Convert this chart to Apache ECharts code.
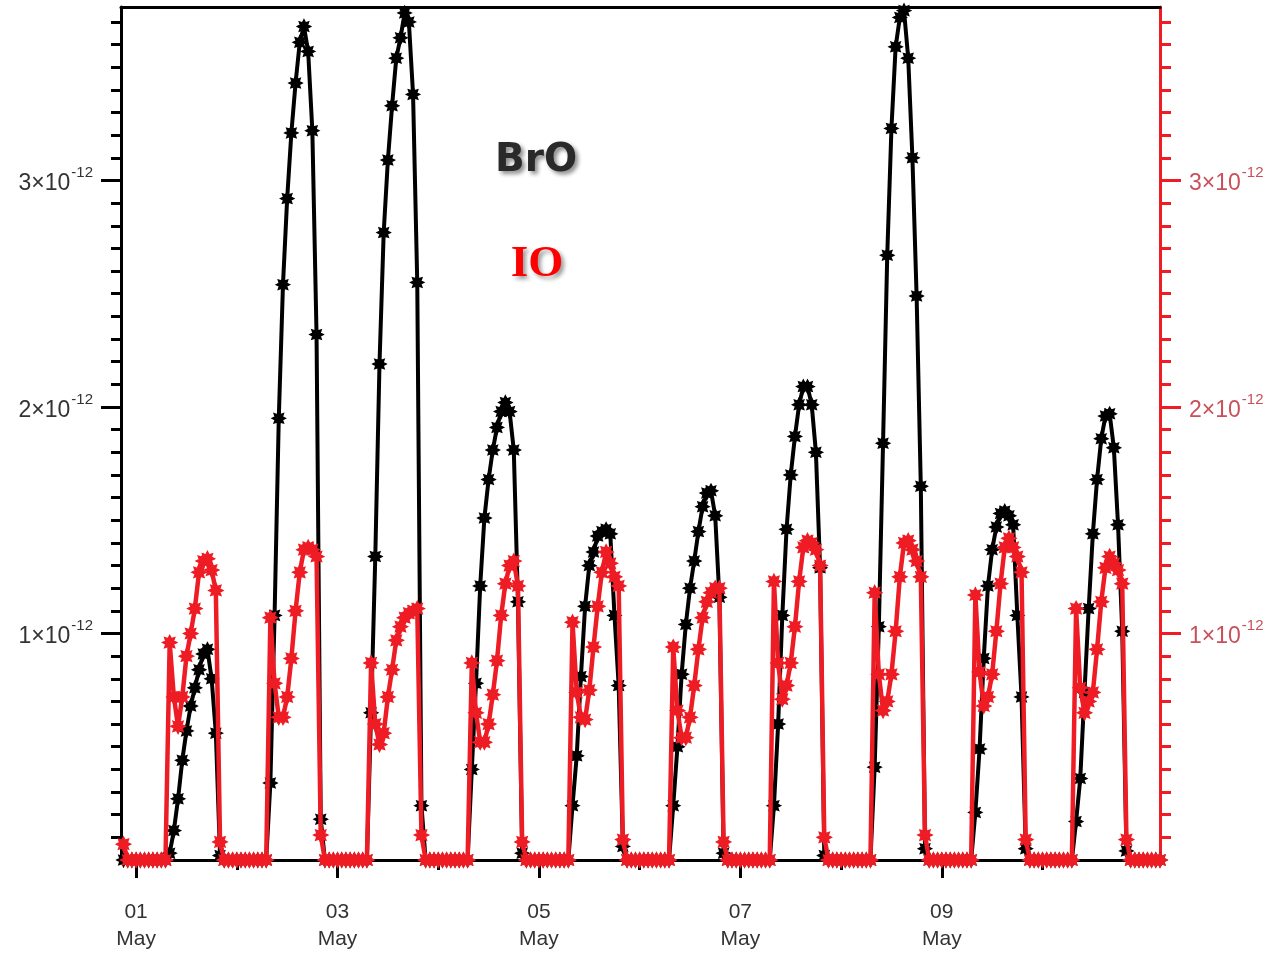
<!DOCTYPE html>
<html><head><meta charset="utf-8">
<script src="https://cdn.jsdelivr.net/npm/echarts@6/dist/echarts.min.js"></script>
<style>html,body{margin:0;padding:0;background:#fff}#c{width:1272px;height:953px}</style>
</head><body><div id="c"></div><script>
// hourly values in units of 1e-12, first point = 30 Apr 21:00 (hour -3 from 01 May 00:00)
const startHour = -3;
const broE12 = [
  0, 0, 0,
  0,0,0,0,0,0,0,0, 0.03,0.13,0.27,0.44,0.57,0.68,0.76,0.84,0.91,0.93,0.80,0.56,0.02, 0,0,0,
  0,0,0,0,0,0,0,0, 0.34,1.08,1.95,2.54,2.92,3.21,3.43,3.61,3.68,3.57,3.22,2.32,0.18, 0,0,0,
  0,0,0,0,0,0,0,0, 0.65,1.34,2.19,2.77,3.09,3.33,3.54,3.63,3.74,3.70,3.38,2.55,0.24, 0,0,0,
  0,0,0,0,0,0,0,0, 0.40,0.78,1.21,1.51,1.68,1.81,1.91,1.98,2.02,1.98,1.81,1.14,0.03, 0,0,0,
  0,0,0,0,0,0,0,0, 0.24,0.46,0.81,1.12,1.30,1.36,1.43,1.45,1.46,1.44,1.08,0.77,0.06, 0,0,0,
  0,0,0,0,0,0,0,0, 0.24,0.50,0.82,1.04,1.20,1.32,1.45,1.56,1.62,1.63,1.52,1.16,0.03, 0,0,0,
  0,0,0,0,0,0,0,0, 0.24,0.60,1.08,1.46,1.70,1.87,2.01,2.09,2.09,2.01,1.80,1.29,0.02, 0,0,0,
  0,0,0,0,0,0,0,0, 0.41,1.03,1.84,2.67,3.23,3.59,3.72,3.75,3.54,3.10,2.49,1.65,0.05, 0,0,0,
  0,0,0,0,0,0,0,0, 0.21,0.49,0.89,1.21,1.37,1.47,1.53,1.54,1.52,1.48,1.08,0.72,0.05, 0,0,0,
  0,0,0,0,0,0,0,0, 0.17,0.36,0.74,1.11,1.44,1.68,1.86,1.96,1.97,1.82,1.48,1.01,0.04, 0,0,0,
  0,0,0,0,0
];
const ioE12 = [
  0.07, 0, 0,
  0,0,0,0,0,0,0,0, 0.96,0.72,0.59,0.72,0.90,1.00,1.11,1.27,1.32,1.33,1.28,1.19,0.08, 0,0,0,
  0,0,0,0,0,0,0,0, 1.07,0.78,0.63,0.63,0.72,0.89,1.10,1.27,1.37,1.38,1.37,1.34,0.11, 0,0,0,
  0,0,0,0,0,0,0,0, 0.87,0.60,0.51,0.56,0.72,0.84,0.97,1.03,1.07,1.09,1.10,1.11,0.11, 0,0,0,
  0,0,0,0,0,0,0,0, 0.87,0.65,0.52,0.52,0.60,0.73,0.88,1.08,1.22,1.30,1.32,1.21,0.08, 0,0,0,
  0,0,0,0,0,0,0,0, 1.05,0.74,0.63,0.62,0.75,0.94,1.12,1.27,1.36,1.31,1.25,1.21,0.09, 0,0,0,
  0,0,0,0,0,0,0,0, 0.94,0.66,0.54,0.54,0.63,0.77,0.93,1.07,1.14,1.18,1.20,1.20,0.08, 0,0,0,
  0,0,0,0,0,0,0,0, 1.23,0.87,0.71,0.77,0.87,1.03,1.23,1.38,1.41,1.40,1.37,1.30,0.10, 0,0,0,
  0,0,0,0,0,0,0,0, 1.18,0.82,0.66,0.70,0.82,1.01,1.25,1.40,1.41,1.37,1.32,1.25,0.11, 0,0,0,
  0,0,0,0,0,0,0,0, 1.17,0.83,0.68,0.72,0.82,1.01,1.22,1.38,1.42,1.38,1.34,1.27,0.09, 0,0,0,
  0,0,0,0,0,0,0,0, 1.11,0.76,0.65,0.70,0.74,0.93,1.14,1.29,1.34,1.31,1.28,1.22,0.09, 0,0,0,
  0,0,0,0,0
];
const xTickHours = [0, 48, 96, 144, 192];
const xTickLabels = ['01\nMay', '03\nMay', '05\nMay', '07\nMay', '09\nMay'];
const xMinorHours = [24, 72, 120, 168, 216];
const yTickValues = [1, 2, 3];
const yMinorValues = [0.1,0.2,0.3,0.4,0.5,0.6,0.7,0.8,0.9,1.1,1.2,1.3,1.4,1.5,1.6,1.7,1.8,1.9,
  2.1,2.2,2.3,2.4,2.5,2.6,2.7,2.8,2.9,3.1,3.2,3.3,3.4,3.5,3.6,3.7];

const broData = broE12.map((v, i) => [startHour + i, v]);
const ioData = ioE12.map((v, i) => [startHour + i, v]);

const STAR = 'path://M20 10 L15.54 12.3 L17.07 17.07 L12.3 15.54 L10 20 L7.7 15.54 L2.93 17.07 L4.46 12.3 L0 10 L4.46 7.7 L2.93 2.93 L7.7 4.46 L10 0 L12.3 4.46 L17.07 2.93 L15.54 7.7 Z';
const XMIN = -3.6, XMAX = 244, YMAX = 3.766;
const FONT = '"Liberation Sans", Arial, sans-serif';

function yLabel(v) { return '{b|' + v + '×10}{s|-12}'; }
const yRich = (col) => ({
  b: { fontSize: 23, fontFamily: FONT, color: col, lineHeight: 30, verticalAlign: 'bottom' },
  s: { fontSize: 15, fontFamily: FONT, color: col, lineHeight: 30, verticalAlign: 'top', padding: [0, 0, 0, 1] }
});

const chart = echarts.init(document.getElementById('c'), null, { renderer: 'canvas' });
chart.setOption({
  animation: false,
  backgroundColor: '#fff',
  grid: { left: 121, top: 7, width: 1039, bottom: 93, containLabel: false },
  xAxis: [
    { type: 'value', min: XMIN, max: XMAX, position: 'bottom',
      axisLine: { show: true, onZero: false, lineStyle: { color: '#000', width: 3 } },
      axisTick: { show: true, customValues: xTickHours, length: 18, lineStyle: { color: '#000', width: 3 } },
      axisLabel: { show: true, customValues: xTickHours, margin: 39, color: '#333', fontSize: 21, fontFamily: FONT, lineHeight: 27,
        formatter: (v) => { const k = xTickHours.indexOf(Math.round(v)); return k >= 0 ? xTickLabels[k] : ''; } },
      splitLine: { show: false } },
    { type: 'value', min: XMIN, max: XMAX, position: 'bottom',
      axisLine: { show: false, onZero: false },
      axisTick: { show: true, customValues: xMinorHours, length: 10, lineStyle: { color: '#000', width: 3 } },
      axisLabel: { show: false }, splitLine: { show: false } },
    { type: 'value', min: XMIN, max: XMAX, position: 'top',
      axisLine: { show: true, onZero: false, lineStyle: { color: '#000', width: 3 } },
      axisTick: { show: false }, axisLabel: { show: false }, splitLine: { show: false } }
  ],
  yAxis: [
    { type: 'value', min: 0, max: YMAX, position: 'left',
      axisLine: { show: true, onZero: false, lineStyle: { color: '#000', width: 3 } },
      axisTick: { show: true, customValues: yTickValues, length: 20, lineStyle: { color: '#000', width: 3 } },
      axisLabel: { show: true, customValues: yTickValues, margin: 28, formatter: yLabel, rich: yRich('#333') },
      splitLine: { show: false } },
    { type: 'value', min: 0, max: YMAX, position: 'left',
      axisLine: { show: false, onZero: false },
      axisTick: { show: true, customValues: yMinorValues, length: 10, lineStyle: { color: '#000', width: 3 } },
      axisLabel: { show: false }, splitLine: { show: false } },
    { type: 'value', min: 0, max: YMAX, position: 'right',
      axisLine: { show: true, onZero: false, lineStyle: { color: '#ee1c24', width: 3 } },
      axisTick: { show: true, customValues: yTickValues, length: 21, lineStyle: { color: '#ee1c24', width: 3 } },
      axisLabel: { show: true, customValues: yTickValues, margin: 29, formatter: yLabel, rich: yRich('#c8505a') },
      splitLine: { show: false } },
    { type: 'value', min: 0, max: YMAX, position: 'right',
      axisLine: { show: false, onZero: false },
      axisTick: { show: true, customValues: yMinorValues, length: 11, lineStyle: { color: '#ee1c24', width: 3 } },
      axisLabel: { show: false }, splitLine: { show: false } }
  ],
  series: [
    { name: 'BrO', type: 'line', xAxisIndex: 0, yAxisIndex: 0, data: broData,
      lineStyle: { color: '#000', width: 4 }, itemStyle: { color: '#000', borderColor: '#000', borderWidth: 1.5 },
      symbol: STAR, symbolSize: 13, showAllSymbol: true, z: 3, clip: true },
    { name: 'IO', type: 'line', xAxisIndex: 0, yAxisIndex: 2, data: ioData,
      lineStyle: { color: '#ee1c24', width: 4.5 }, itemStyle: { color: '#ee1c24', borderColor: '#ee1c24', borderWidth: 1.5 },
      symbol: STAR, symbolSize: 14, showAllSymbol: true, z: 4, clip: true }
  ],
  graphic: [
    { type: 'text', x: 536, y: 161, z: 10,
      style: { text: 'BrO', font: 'bold 39px "DejaVu Sans"', fill: '#2a2a2a', align: 'center', verticalAlign: 'middle',
        textShadowColor: 'rgba(0,0,0,0.45)', textShadowBlur: 4, textShadowOffsetX: 3, textShadowOffsetY: 3 } },
    { type: 'text', x: 537, y: 264, z: 10,
      style: { text: 'IO', font: 'bold 45px "Liberation Serif"', fill: '#ff0000', align: 'center', verticalAlign: 'middle',
        textShadowColor: 'rgba(0,0,0,0.4)', textShadowBlur: 4, textShadowOffsetX: 3, textShadowOffsetY: 3 } }
  ]
});
</script></body></html>
